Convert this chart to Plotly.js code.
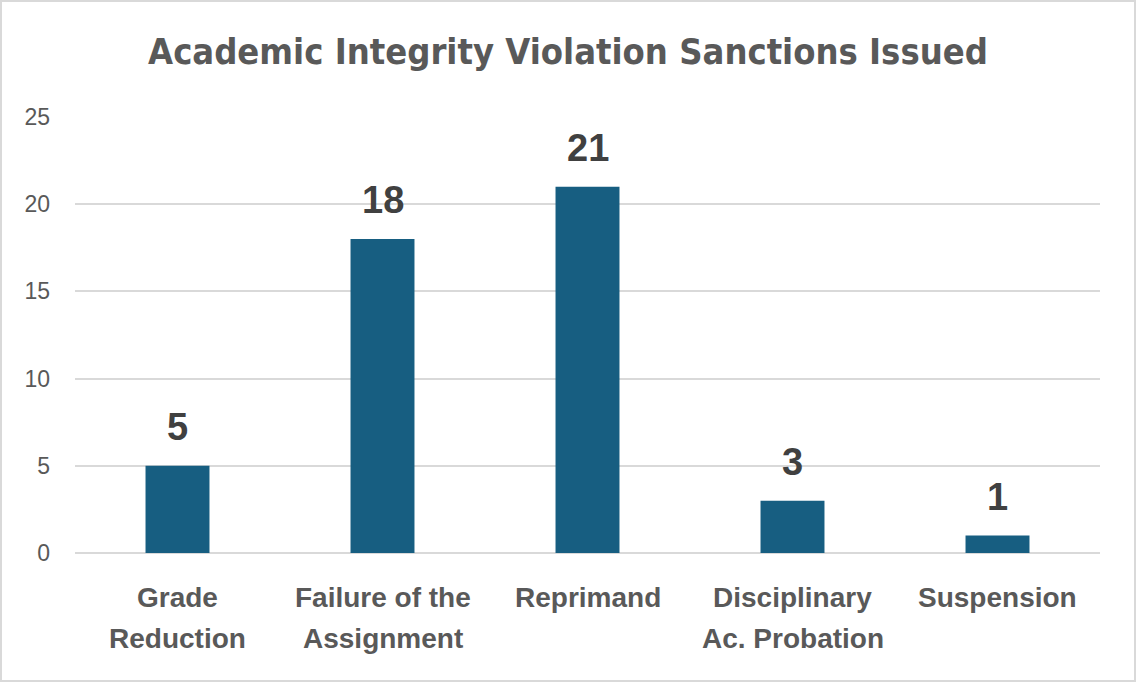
<!DOCTYPE html>
<html>
<head>
<meta charset="utf-8">
<script src="https://cdn.plot.ly/plotly-3.0.1.min.js"></script>
<style>
  html, body { margin: 0; padding: 0; background: #ffffff; }
  #wrap { position: relative; width: 1136px; height: 682px; }
  #chart { width: 1136px; height: 682px; }
  #frame { position: absolute; left: 0; top: 0; width: 1136px; height: 682px; box-sizing: border-box; border: 2px solid #d9d9d9; pointer-events: none; }
</style>
</head>
<body>
<div id="wrap"><div id="chart"></div><div id="frame"></div></div>
<script>
const categories = ["Grade Reduction", "Failure of the Assignment", "Reprimand", "Disciplinary Ac. Probation", "Suspension"];
const labelLine1 = ["Grade", "Failure of the", "Reprimand", "Disciplinary", "Suspension"];
const labelLine2 = ["Reduction", "Assignment", "", "Ac. Probation", ""];
const sanctions = [5, 18, 21, 3, 1];
const yTicks = [0, 5, 10, 15, 20, 25];
const chartTitle = "Academic Integrity Violation Sanctions Issued";

const labelFont = { family: "'Liberation Sans', Arial, sans-serif", size: 28, color: "#595959" };

const annotations = [];
categories.forEach((c, i) => {
  annotations.push({
    x: c, y: sanctions[i], xref: "x", yref: "y",
    text: "<b>" + sanctions[i] + "</b>", showarrow: false,
    yanchor: "middle", yshift: 39,
    font: { family: "'Liberation Sans', Arial, sans-serif", size: 38, color: "#404040" }
  });
  annotations.push({
    x: c, y: 0, xref: "x", yref: "paper",
    text: "<b>" + labelLine1[i] + "</b>", showarrow: false,
    yanchor: "middle", yshift: -44, font: labelFont
  });
  if (labelLine2[i]) {
    annotations.push({
      x: c, y: 0, xref: "x", yref: "paper",
      text: "<b>" + labelLine2[i] + "</b>", showarrow: false,
      yanchor: "middle", yshift: -85, font: labelFont
    });
  }
});

const data = [{
  type: "bar",
  x: categories,
  y: sanctions,
  marker: { color: "#175e81" },
  hoverinfo: "x+y"
}];

const layout = {
  width: 1136, height: 682,
  margin: { l: 75, r: 36, t: 117, b: 129 },
  paper_bgcolor: "#ffffff",
  plot_bgcolor: "#ffffff",
  bargap: 0.688,
  showlegend: false,
  title: {
    text: "<b>" + chartTitle + "</b>",
    xref: "container", yref: "container",
    x: 0.5, xanchor: "center",
    y: 1 - 51 / 682, yanchor: "middle",
    font: { family: "'DejaVu Sans Condensed', 'Liberation Sans Narrow', 'Arial Narrow', sans-serif", size: 36, color: "#595959" }
  },
  xaxis: {
    type: "category",
    showticklabels: false,
    showgrid: false,
    zeroline: false,
    showline: false,
    ticks: ""
  },
  yaxis: {
    range: [0, 25],
    tickvals: yTicks,
    ticktext: yTicks.map(String),
    showgrid: true,
    gridcolor: "#d9d9d9",
    gridwidth: 1.5,
    zeroline: true,
    zerolinecolor: "#d9d9d9",
    zerolinewidth: 1.5,
    showline: false,
    ticks: "",
    ticklabelstandoff: 24,
    tickfont: { family: "'Liberation Sans', Arial, sans-serif", size: 23, color: "#595959" }
  },
  annotations: annotations
};

Plotly.newPlot("chart", data, layout, { displayModeBar: false, staticPlot: false });
</script>
</body>
</html>
